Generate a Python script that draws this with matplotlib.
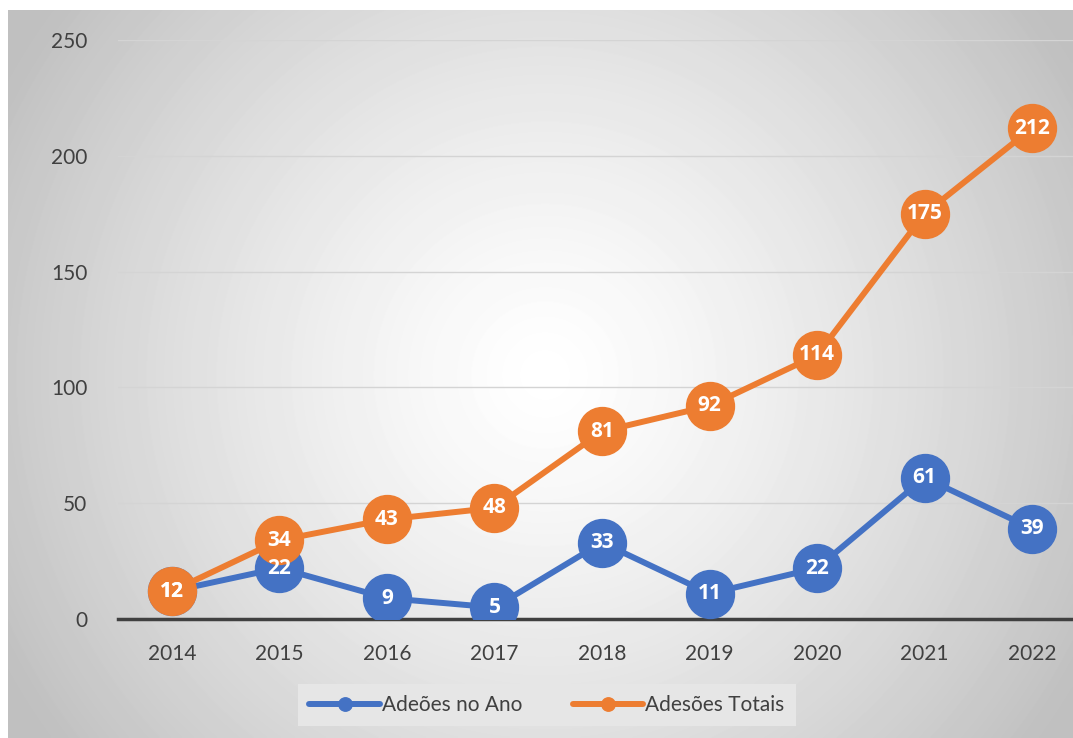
import numpy as np
import matplotlib.pyplot as plt

years = ["2014", "2015", "2016", "2017", "2018", "2019", "2020", "2021", "2022"]
adesoes_ano = [12, 22, 9, 5, 33, 11, 22, 61, 39]
adesoes_totais = [12, 34, 43, 48, 81, 92, 114, 175, 212]

blue = "#4472C4"
orange = "#ED7D31"
text_col = "#404040"

plt.rcParams["font.family"] = ["Lato", "DejaVu Sans"]

W, H = 1073, 738
fig = plt.figure(figsize=(W / 100, H / 100), dpi=100)
fig.patch.set_facecolor("white")

# radial grey gradient behind the chart
bg = fig.add_axes([8 / W, 0, 1 - 8 / W, 1 - 10 / H], zorder=-10)
yy, xx = np.mgrid[0:H - 10, 8:W]
cx, cy = 545, 375 - 10
r = np.hypot((xx - cx) / 620, (yy - cy) / 620)
shade = 1.0 - 0.25 * np.clip(r, 0, 1) ** 1.3
bg.imshow(shade, cmap="gray", vmin=0, vmax=1, aspect="auto", interpolation="bilinear")
bg.axis("off")

ax = fig.add_axes([118 / W, 119 / H, 968 / W, (698 - 119) / H])
ax.patch.set_alpha(0)
x = np.arange(len(years))

ax.plot(x, adesoes_ano, color=blue, lw=4.3, marker="o", ms=34.5, solid_capstyle="round",
        label="Adeões no Ano", zorder=3)
ax.plot(x, adesoes_totais, color=orange, lw=4.3, marker="o", ms=34.5, solid_capstyle="round",
        label="Adesões Totais", zorder=4)

for xi, v in zip(x, adesoes_ano):
    ax.text(xi, v, str(v), color="white", fontsize=15, fontweight="bold",
            family="Open Sans", ha="center", va="center", zorder=5)
for xi, v in zip(x, adesoes_totais):
    ax.text(xi, v, str(v), color="white", fontsize=15, fontweight="bold",
            family="Open Sans", ha="center", va="center", zorder=6)

ax.set_xlim(-0.5, 8.5)
ax.set_ylim(0, 250)
ax.set_yticks(range(0, 251, 50))
ax.set_xticks(x)
ax.set_xticklabels(years)
ax.grid(axis="y", color="#d4d4d4", lw=1)
ax.set_axisbelow(True)
for s in ["top", "right", "left"]:
    ax.spines[s].set_visible(False)
ax.spines["bottom"].set_color(text_col)
ax.spines["bottom"].set_linewidth(2.5)
ax.tick_params(length=0, labelsize=15, colors=text_col, pad=18)
ax.tick_params(axis="y", pad=22)

leg = fig.legend(loc="center", bbox_to_anchor=(547 / W, 1 - 705 / H), ncol=2,
                 fontsize=15, frameon=True, fancybox=False, markerscale=0.28,
                 handlelength=3.4, handletextpad=0.1, columnspacing=2.4,
                 borderpad=0.55, borderaxespad=0)
leg.get_frame().set_facecolor("#e6e6e6")
leg.get_frame().set_edgecolor("none")
leg.get_frame().set_alpha(1)
for t in leg.get_texts():
    t.set_color(text_col)

fig.savefig("out.png", dpi=100)
